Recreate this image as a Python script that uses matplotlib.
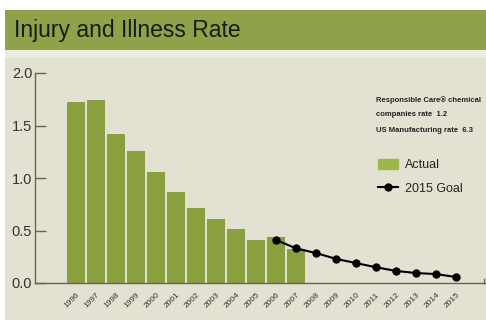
import matplotlib.pyplot as plt
from matplotlib.patches import Rectangle

plt.rcParams['font.family'] = ['Liberation Sans', 'DejaVu Sans']

# data
actual_years = [1996, 1997, 1998, 1999, 2000, 2001, 2002, 2003, 2004, 2005, 2006, 2007]
actual_rate = [1.72, 1.74, 1.42, 1.26, 1.06, 0.87, 0.71, 0.61, 0.51, 0.41, 0.44, 0.32]
goal_years = [2006, 2007, 2008, 2009, 2010, 2011, 2012, 2013, 2014, 2015]
goal_rate = [0.41, 0.33, 0.285, 0.23, 0.19, 0.15, 0.115, 0.095, 0.085, 0.057]
all_years = list(range(1996, 2016))
yticks = [0.0, 0.5, 1.0, 1.5, 2.0]

bg = '#e3e2d2'
band = '#8fa24a'
barcol = '#8aa040'
W, H = 486, 320

fig = plt.figure(figsize=(W/100, H/100), dpi=100, facecolor='white')

# background panel and title band
fig.patches.append(Rectangle((5/W, 0), 1, 270/H, transform=fig.transFigure,
                             facecolor=bg, edgecolor='none', zorder=-10))
fig.patches.append(Rectangle((5/W, 262/H), 1, 8/H, transform=fig.transFigure,
                             facecolor='#ecebe1', edgecolor='none', zorder=-10))
fig.patches.append(Rectangle((5/W, 270/H), 1, 40/H, transform=fig.transFigure,
                             facecolor=band, edgecolor='none', zorder=-10))
fig.text(14/W, 289/H, 'Injury and Illness Rate', fontsize=16.5, color='#1a1a10',
         va='center', ha='left')

ax = fig.add_axes([35/W, 37/H, 450/W, 210/H])
ax.set_facecolor('none')

bars = ax.bar(actual_years, actual_rate, width=0.93, color=barcol, label='Actual', zorder=2)
line, = ax.plot(goal_years, goal_rate, color='black', lw=1.5, marker='o', ms=5,
                label='2015 Goal', zorder=3)

ax.set_xlim(1993.95, 2016.45)
ax.set_ylim(0, 2.0)
ax.set_yticks(yticks)
ax.set_yticklabels(['%.1f' % v for v in yticks], fontsize=10.5, color='#333333')
ax.set_xticks(all_years)
ax.set_xticklabels([str(y) for y in all_years], rotation=45, ha='right',
                   rotation_mode='anchor', fontsize=6, color='#333333')
ax.tick_params(axis='x', length=0, pad=6)
ax.tick_params(axis='y', direction='in', length=8, width=1, color='#666655', pad=2)

for s in ['top', 'right']:
    ax.spines[s].set_visible(False)
for s in ['left', 'bottom']:
    ax.spines[s].set_color('#666655')
    ax.spines[s].set_linewidth(1)
ax.plot([2016.4, 2016.4], [0, 0.04], color='#666655', lw=1, clip_on=False)

# notes at the right
fig.text(376/W, 220/H, 'Responsible Care\u00ae chemical', fontsize=5.5,
         fontweight='bold', color='#222222', va='center')
fig.text(376/W, 205/H, 'companies rate  1.2', fontsize=5.5,
         fontweight='bold', color='#222222', va='center')
fig.text(376/W, 189/H, 'US Manufacturing rate  6.3', fontsize=5.5, fontweight='bold',
         color='#222222', va='center')

leg = ax.legend([bars, line], ['Actual', '2015 Goal'], loc='upper left',
                bbox_to_anchor=(0.762, 0.59), frameon=False,
                fontsize=9, handlelength=1.6, handleheight=0.8, labelspacing=0.9,
                handletextpad=0.6, borderaxespad=0, borderpad=0)
for t in leg.get_texts():
    t.set_color('#222222')
leg.legend_handles[0].set_color('#9cb84a')

fig.savefig('out.png', dpi=100, facecolor='white')
